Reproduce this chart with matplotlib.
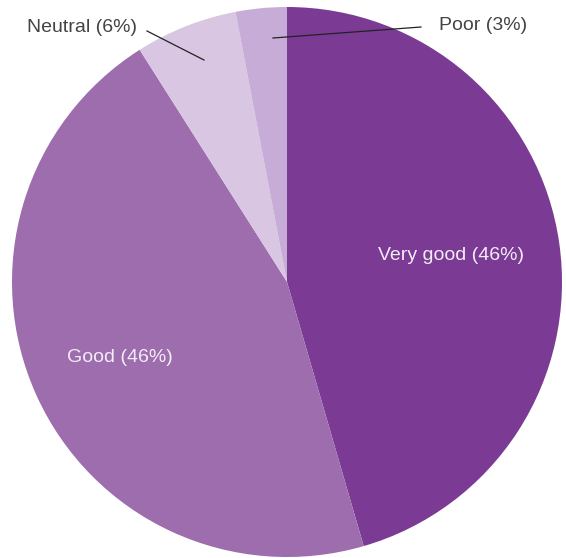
import matplotlib.pyplot as plt

labels = ['Very good (46%)', 'Good (46%)', 'Neutral (6%)', 'Poor (3%)']
values = [45.5, 45.5, 6.0, 3.0]
colors = ['#7b3b94', '#9d6dae', '#d8c6e2', '#c7acd7']

plt.rcParams['font.family'] = ['Liberation Sans', 'DejaVu Sans']

fig = plt.figure(figsize=(5.66, 5.58), dpi=100)
ax = fig.add_axes([0, 0, 1, 1])
# pixel-like coordinates: x to the right, y = -pixel row
ax.pie(values, colors=colors, startangle=90, counterclock=False,
       center=(287, -282), radius=275, frame=True,
       wedgeprops=dict(linewidth=0))
ax.set_xlim(0, 566)
ax.set_ylim(-558, 0)
ax.set_aspect('equal')
ax.axis('off')

# labels inside the two big slices
ax.text(451, -255, labels[0], color='#f3ecf6', fontsize=14, ha='center', va='center')
ax.text(120, -358, labels[1], color='#f3ecf6', fontsize=14, ha='center', va='center')

# outside labels with leader lines
ax.text(82, -28, labels[2], color='#444444', fontsize=14, ha='center', va='center')
ax.plot([147, 204], [-31, -60], color='#222222', lw=0.9)
ax.text(483, -26, labels[3], color='#444444', fontsize=14, ha='center', va='center')
ax.plot([273, 421], [-38, -27], color='#222222', lw=0.9)

fig.savefig('out.png', dpi=100)
